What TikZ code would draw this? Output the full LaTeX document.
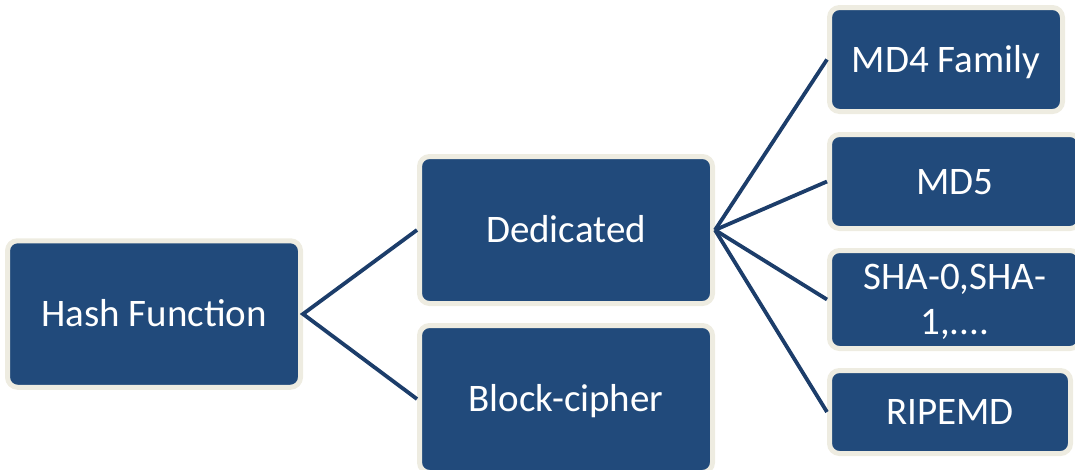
\documentclass[tikz,border=0pt]{standalone}
\usepackage{fontspec}
\setmainfont{Carlito}
\usetikzlibrary{positioning}
\definecolor{boxblue}{HTML}{214A7B}
\definecolor{boxrim}{HTML}{EEECE1}
\definecolor{linkblue}{HTML}{1C3D6A}

\begin{document}
\begin{tikzpicture}[x=1pt, y=-1pt,
  hbox/.style={rectangle, rounded corners=10pt, fill=boxblue, draw=boxrim,
    line width=5pt, text=white, font=\fontsize{39}{45}\selectfont,
    align=center, inner sep=0pt, text height=25pt, text depth=0pt},
  link/.style={draw=linkblue, line width=3.8pt}]
\useasboundingbox (0,0) rectangle (1075,469);

% root
\node[hbox, minimum width=293pt, minimum height=146.5pt] (hash) at (154,314) {Hash Function};

% second level
\node[hbox, minimum width=293pt, minimum height=147pt] (dedicated) at (566,230) {Dedicated};
\node[hbox, minimum width=293pt, minimum height=147pt] (block) at (566,399) {Block-cipher};

% dedicated families
\node[hbox, minimum width=233pt, minimum height=104pt] (md4) at (946,59.5) {MD4 Family};
\node[hbox, minimum width=250.5pt, minimum height=94pt] (md5) at (954.75,181.5) {MD5};
\node[hbox, minimum width=250.5pt, minimum height=98pt, text height=70pt] (sha) at (954.75,299.5) {SHA-0,SHA-\\1,....};
\node[hbox, minimum width=241pt, minimum height=83pt] (ripemd) at (950,412) {RIPEMD};

% connectors
\draw[link] (block.west) -- (hash.east) -- (dedicated.west);
\foreach \leaf in {md4, md5, sha, ripemd} {
    \draw[link] (dedicated.east) -- (\leaf.west);
}
\end{tikzpicture}
\end{document}
